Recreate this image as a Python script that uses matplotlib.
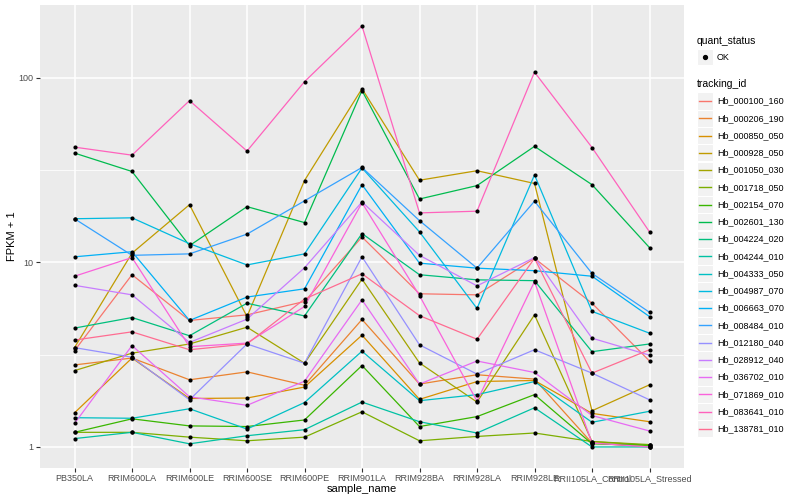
import matplotlib
matplotlib.use("Agg")
import matplotlib.pyplot as plt
from matplotlib.patches import Rectangle
from matplotlib.lines import Line2D
from matplotlib.ticker import FixedLocator, NullFormatter

plt.rcParams["font.family"] = ["Liberation Sans", "DejaVu Sans"]

samples = ["PB350LA", "RRIM600LA", "RRIM600LE", "RRIM600SE", "RRIM600PE",
           "RRIM901LA", "RRIM928BA", "RRIM928LA", "RRIM928LE",
           "RRII105LA_Control", "RRII105LA_Stressed"]

genes = ["Hb_000100_160", "Hb_000206_190", "Hb_000850_050", "Hb_000928_050",
         "Hb_001050_030", "Hb_001718_050", "Hb_002154_070", "Hb_002601_130",
         "Hb_004224_020", "Hb_004244_010", "Hb_004333_050", "Hb_004987_070",
         "Hb_006663_070", "Hb_008484_010", "Hb_012180_040", "Hb_028912_040",
         "Hb_036702_010", "Hb_071869_010", "Hb_083641_010", "Hb_138781_010"]

# ggplot default hue palette for 20 levels
colors = ["#F8766D", "#EA8331", "#D89000", "#C09B00", "#A3A500", "#7CAE00",
          "#39B600", "#00BB4E", "#00BF7D", "#00C1A3", "#00BFC4", "#00BAE0",
          "#00B0F6", "#35A2FF", "#9590FF", "#C77CFF", "#E76BF3", "#FA62DB",
          "#FF62BC", "#FF6C91"]

# FPKM + 1, one list per tracking_id, values in sample order
hb_000100_160 = [3.32, 8.56, 4.84, 5.19, 6.13, 13.7, 6.75, 6.66, 10.5, 6.0, 2.92]
hb_000206_190 = [2.78, 3.03, 2.31, 2.55, 2.16, 4.90, 2.19, 2.46, 2.33, 1.05, 1.0]
hb_000850_050 = [1.53, 3.03, 1.83, 1.84, 2.11, 4.03, 1.81, 2.26, 2.29, 1.52, 1.37]
hb_000928_050 = [3.45, 11.2, 20.5, 5.08, 27.7, 87.0, 27.8, 31.3, 26.7, 1.57, 2.17]
hb_001050_030 = [2.59, 3.22, 3.61, 4.45, 2.84, 8.1, 2.85, 1.75, 5.19, 1.07, 1.02]
hb_001718_050 = [1.20, 1.20, 1.13, 1.08, 1.13, 1.55, 1.08, 1.14, 1.19, 1.07, 1.03]
hb_002154_070 = [1.20, 1.42, 1.30, 1.29, 1.40, 2.76, 1.29, 1.46, 1.92, 1.04, 1.02]
hb_002601_130 = [39.0, 31.0, 12.3, 20.0, 16.4, 85.0, 22.0, 26.0, 42.4, 26.3, 12.0]
hb_004224_020 = [4.4, 5.02, 4.0, 6.0, 5.12, 14.3, 8.56, 8.03, 7.95, 3.28, 3.61]
hb_004244_010 = [1.11, 1.20, 1.04, 1.15, 1.24, 1.75, 1.37, 1.19, 1.63, 1.0, 1.0]
hb_004333_050 = [1.44, 1.43, 1.61, 1.25, 1.74, 3.30, 1.78, 1.92, 2.26, 1.36, 1.56]
hb_004987_070 = [17.2, 17.4, 12.6, 9.67, 11.1, 32.4, 14.6, 5.62, 29.7, 5.42, 4.13]
hb_006663_070 = [10.7, 11.4, 4.84, 6.48, 7.18, 26.3, 9.89, 9.29, 9.0, 8.4, 5.08]
hb_008484_010 = [17.2, 10.9, 11.1, 14.2, 21.5, 32.6, 16.8, 9.29, 21.4, 8.7, 5.36]
hb_012180_040 = [3.45, 3.06, 1.80, 3.61, 2.84, 10.7, 3.57, 2.48, 3.36, 2.51, 1.80]
hb_028912_040 = [7.5, 6.66, 3.68, 4.92, 9.33, 21.2, 10.9, 7.45, 10.6, 3.88, 3.14]
hb_036702_010 = [1.34, 3.54, 1.87, 1.68, 2.27, 6.26, 2.19, 2.92, 2.53, 1.48, 1.22]
hb_071869_010 = [8.4, 10.6, 3.49, 3.65, 5.76, 21.0, 6.6, 1.77, 7.85, 1.05, 1.0]
hb_083641_010 = [42.0, 38.0, 75.0, 40.0, 95.0, 190.0, 18.5, 18.9, 107.0, 41.8, 14.6]
hb_138781_010 = [3.79, 4.20, 3.36, 3.61, 6.32, 8.66, 5.14, 3.83, 10.5, 2.51, 3.36]

fpkm = [hb_000100_160, hb_000206_190, hb_000850_050, hb_000928_050,
        hb_001050_030, hb_001718_050, hb_002154_070, hb_002601_130,
        hb_004224_020, hb_004244_010, hb_004333_050, hb_004987_070,
        hb_006663_070, hb_008484_010, hb_012180_040, hb_028912_040,
        hb_036702_010, hb_071869_010, hb_083641_010, hb_138781_010]

W, H = 800, 500
fig = plt.figure(figsize=(W / 100, H / 100), dpi=100)
ax = fig.add_axes([40 / W, 1 - 468 / H, (684 - 40) / W, (468 - 5) / H])
ax.set_facecolor("#EBEBEB")
for s in ax.spines.values():
    s.set_visible(False)

xs = list(range(len(samples)))
for vals, col in zip(fpkm, colors):
    ax.plot(xs, vals, color=col, lw=0.9, zorder=2, solid_joinstyle="round")
for vals in fpkm:
    ax.scatter(xs, vals, s=9, color="black", zorder=3, linewidths=0)

ax.set_yscale("log")
lo, hi = 0.0, 2.2788
pad = (hi - lo) * 0.05
ax.set_ylim(10 ** (lo - pad), 10 ** (hi + pad))
ax.set_xlim(-0.6, len(samples) - 0.4)

ax.yaxis.set_major_locator(FixedLocator([1, 10, 100]))
ax.yaxis.set_minor_locator(FixedLocator([10 ** 0.5, 10 ** 1.5]))
ax.yaxis.set_minor_formatter(NullFormatter())
ax.set_yticklabels(["1", "10", "100"])
ax.set_xticks(xs)
ax.set_xticklabels(samples)

ax.grid(which="major", color="white", lw=1.1)
ax.grid(which="minor", axis="y", color="white", lw=0.55)
ax.set_axisbelow(True)
ax.tick_params(which="major", length=3, width=0.8, color="#333333",
               labelsize=6.5, labelcolor="#4D4D4D", pad=1.5)
ax.tick_params(which="minor", length=0)

ax.set_xlabel("sample_name", fontsize=8, labelpad=0.5)
ax.set_ylabel("FPKM + 1", fontsize=8, labelpad=1.5)

# legends (ggplot style, drawn in pixel coords)
def fx(px):
    return px / W

def fy(py):
    return 1 - py / H

fig.text(fx(697), fy(41), "quant_status", fontsize=7.5, va="center", ha="left")
fig.add_artist(Rectangle((fx(697), fy(65)), 16 / W, 16 / H, facecolor="#F2F2F2",
                         edgecolor="white", lw=0.8, transform=fig.transFigure))
fig.add_artist(Line2D([fx(705)], [fy(57)], marker="o", markersize=2.8,
                      color="black", lw=0, transform=fig.transFigure))
fig.text(fx(717), fy(57), "OK", fontsize=6.5, va="center", ha="left")

fig.text(fx(697), fy(84), "tracking_id", fontsize=7.5, va="center", ha="left")
for i, (g, col) in enumerate(zip(genes, colors)):
    cy = 101 + i * 17.25
    fig.add_artist(Rectangle((fx(697), fy(cy + 8.5)), 16 / W, 17 / H,
                             facecolor="#F2F2F2", edgecolor="white", lw=0.8,
                             transform=fig.transFigure))
    fig.add_artist(Line2D([fx(699), fx(711)], [fy(cy), fy(cy)], color=col,
                          lw=1.0, transform=fig.transFigure))
    fig.text(fx(717), fy(cy), g, fontsize=6.5, va="center", ha="left")

fig.savefig("out.png", dpi=100)
